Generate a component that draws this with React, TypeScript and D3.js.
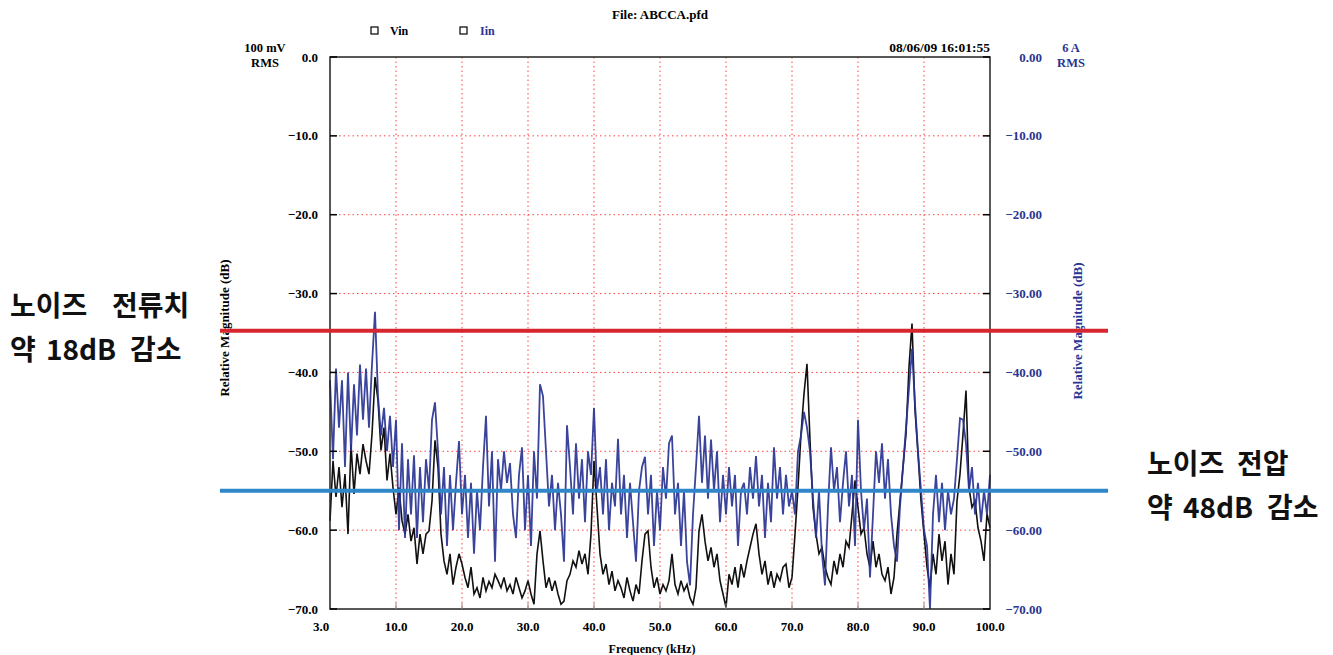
import React from 'react';
import * as d3 from 'd3';

// x axis ticks (the instrument spaces them evenly, 3 -> 10 is one division)
const FREQ_TICKS = [3, 10, 20, 30, 40, 50, 60, 70, 80, 90, 100];
const DB_TICKS = [0, -10, -20, -30, -40, -50, -60, -70];

// Vin spectrum, dB, sampled evenly across the plot width
const VIN_DB = [
  -58.8, -51.2, -55.8, -52, -57.1, -52.9, -60.5, -49.1, -55.4, -50.3,
  -52.9, -49.1, -51.2, -52.9, -47.8, -40.6, -43.5, -49.9, -47, -53.7,
  -50.3, -54.6, -58, -54.6, -58.8, -60.5, -58, -61.4, -59.7, -64.3,
  -60.5, -63, -60.5, -60.1, -56.3, -48.6, -52, -60.5, -63.9, -65.6,
  -63, -66.9, -64.7, -63, -64.3, -66, -67.3, -64.7, -68.1, -67.3,
  -68.6, -66, -67.7, -66.5, -67.3, -65.6, -66.4, -67.3, -66, -67.7,
  -66.9, -68.1, -66, -67.3, -68.6, -67.7, -66.4, -68.1, -69.4, -63,
  -60.1, -63.9, -67.3, -66, -67.7, -66.4, -68.1, -69.4, -69, -66.4,
  -65.6, -63.9, -64.7, -62.6, -64.3, -63, -65.6, -60.5, -51.2, -57.1,
  -63, -65.6, -64.3, -66.9, -65.2, -67.7, -66.4, -67.3, -68.6, -66,
  -67.7, -69, -66.9, -68.1, -63.9, -60.5, -60.1, -64.7, -67.3, -66,
  -68.1, -66.9, -67.7, -66.4, -63, -66.9, -68.1, -66.4, -67.7, -66.9,
  -68.6, -69.4, -67.3, -60.1, -58, -61.4, -63.9, -62.2, -64.7, -63,
  -66.4, -68.1, -69.8, -65.6, -66.9, -64.7, -67.3, -64.3, -66, -63.9,
  -62.2, -60.5, -59.2, -63, -65.6, -63.9, -66.9, -65.2, -67.3, -65.6,
  -66.4, -64.7, -64.3, -67.3, -66, -60.5, -54.6, -47.8, -42.7, -38.9,
  -48.6, -57.1, -60.5, -63, -62.2, -64.7, -66, -66.9, -63.9, -65.6,
  -63, -64.7, -61.4, -62.2, -58, -53.7, -57.1, -60.5, -59.7, -63,
  -64.7, -61.4, -64.7, -63, -65.6, -66.4, -64.7, -68.1, -66, -60.5,
  -56.3, -52, -47.8, -39.3, -33.8, -44.8, -50.3, -56.3, -60.5, -64.7,
  -67.3, -63, -65.6, -60.5, -63.9, -61.4, -66.9, -63, -65.6, -56.3,
  -52.9, -47.8, -42.3, -54.6, -57.1, -56.3, -59.7, -61.4, -63.9, -57.9,
  -59.7
];

// Iin spectrum, dB, same sampling
const IIN_DB = [
  -41, -51, -39.5, -47, -41, -52, -40, -50, -41.5, -48,
  -39, -46, -39.5, -47, -39, -32.3, -43, -48, -44.5, -50,
  -45.5, -52, -46, -60, -49, -61, -51, -58, -50.5, -61,
  -52, -59, -51, -55, -46, -43.8, -50, -58, -52, -62,
  -53, -60, -54, -48.7, -58, -53, -61, -54, -63, -55,
  -60, -52, -45.5, -57, -50, -64, -51, -55, -50, -54,
  -51.5, -58, -61, -53, -49.5, -60, -53, -62, -50, -56,
  -41.5, -43, -50, -57, -53, -60, -54, -58, -64, -46.7,
  -52, -58, -49, -56, -51, -59, -50, -53, -44.5, -55,
  -52, -58, -51, -60, -54, -57, -48.4, -58, -53, -61,
  -54, -59, -64, -55, -52, -50.7, -58, -53, -62, -55,
  -60, -52, -56, -49, -48, -58, -54, -62, -55, -64,
  -67, -58, -52, -45.5, -54, -48, -56, -48.5, -55, -50,
  -59, -53, -58, -52, -57, -53, -62, -55, -54, -58,
  -52, -56, -50.6, -57, -53, -61, -54, -59, -49.5, -56,
  -52, -58, -53, -57, -55, -58, -50, -48, -45, -47,
  -50, -56, -61, -55, -63, -67, -57, -49.5, -55, -52,
  -59, -54, -50, -57, -53, -62, -46, -55, -60, -56,
  -66, -58, -50, -54, -49, -56, -51, -58, -62, -64,
  -57, -52, -47, -42, -37, -44, -50, -55, -60, -62,
  -70, -58, -53, -59, -54, -60, -55, -58, -56, -51,
  -45.8, -46, -49, -55, -52, -58, -54, -59, -55, -58,
  -53
];

// annotation levels (dB) drawn across the chart
const CURRENT_LEVEL = -34.7;
const VOLTAGE_LEVEL = -55.0;

const NAVY = '#2a3492';
const SERIF = '"Liberation Serif", "DejaVu Serif", serif';
const KR = '"Noto Sans CJK KR", "Noto Sans", sans-serif';

export default function App() {
  const W = 1333, H = 655;
  const L = 330, R = 990, T = 57, B = 609;

  const x = d3.scaleLinear().domain([3, 10, 100]).range([L, L + (R - L) / 10, R]);
  const xi = d3.scaleLinear().domain([0, VIN_DB.length - 1]).range([L, R]);
  const y = d3.scaleLinear().domain([-70, 0]).range([B, T]);

  const line = d3.line<number>()
    .x((_, i) => xi(i))
    .y(d => y(d));

  const fmtL = d3.format('.1f');
  const fmtR = d3.format('.2f');

  const txt = { fontFamily: SERIF, fontWeight: 700, fontSize: 13 } as const;

  return (
    <svg width={W} height={H} style={{ position: 'absolute', left: 0, top: 0, background: '#fff' }}>
      {/* title + legend */}
      <text x={660} y={19} textAnchor="middle" {...txt}>File: ABCCA.pfd</text>
      <rect x={371} y={27} width={7} height={7} fill="none" stroke="#000" strokeWidth={1.2} />
      <text x={390} y={35} {...txt} fontSize={12}>Vin</text>
      <rect x={460} y={27} width={7} height={7} fill="none" stroke="#000" strokeWidth={1.2} />
      <text x={480} y={35} {...txt} fontSize={12} fill={NAVY}>Iin</text>

      <text x={265} y={52} textAnchor="middle" {...txt} fontSize={12.5}>100 mV</text>
      <text x={265} y={67} textAnchor="middle" {...txt} fontSize={12.5}>RMS</text>
      <text x={R} y={52} textAnchor="end" {...txt} fontSize={13.5}>08/06/09 16:01:55</text>
      <text x={1071} y={52} textAnchor="middle" {...txt} fontSize={12.5} fill={NAVY}>6 A</text>
      <text x={1071} y={67} textAnchor="middle" {...txt} fontSize={12.5} fill={NAVY}>RMS</text>

      {/* grid */}
      <g stroke="#f22" strokeWidth={1} strokeDasharray="1.5,3" opacity={0.85}>
        {FREQ_TICKS.slice(1, -1).map(f => (
          <line key={'gx' + f} x1={x(f)} x2={x(f)} y1={T} y2={B} />
        ))}
        {DB_TICKS.slice(1, -1).map(v => (
          <line key={'gy' + v} x1={L} x2={R} y1={y(v)} y2={y(v)} />
        ))}
      </g>

      {/* series */}
      <path d={line(VIN_DB) || ''} fill="none" stroke="#111" strokeWidth={1.6} />
      <path d={line(IIN_DB) || ''} fill="none" stroke={NAVY} strokeWidth={1.8} strokeOpacity={0.92} />

      {/* frame and ticks */}
      <rect x={L} y={T} width={R - L} height={B - T} fill="none" stroke="#222" strokeWidth={1.5} />
      {DB_TICKS.map(v => (
        <g key={'t' + v}>
          <line x1={L} x2={L + 7} y1={y(v)} y2={y(v)} stroke="#000" strokeWidth={1.5} />
          <line x1={R - 7} x2={R} y1={y(v)} y2={y(v)} stroke="#000" strokeWidth={1.5} />
          <text x={318} y={y(v) + 4.5} textAnchor="end" {...txt}>{fmtL(v)}</text>
          <text x={1042} y={y(v) + 4.5} textAnchor="end" {...txt} fill={NAVY}>{fmtR(v)}</text>
        </g>
      ))}
      {FREQ_TICKS.map((f, i) => (
        <g key={'xt' + f}>
          {i > 0 && i < FREQ_TICKS.length - 1 && (
            <line x1={x(f)} x2={x(f)} y1={B} y2={B - 6} stroke="#888" strokeWidth={1} />
          )}
          <text x={x(f) + (i === 0 ? -9 : 0)} y={631} textAnchor="middle" {...txt}>{fmtL(f)}</text>
        </g>
      ))}
      <text x={652} y={653} textAnchor="middle" {...txt} fontSize={12}>Frequency (kHz)</text>
      <text transform="translate(229,328) rotate(-90)" textAnchor="middle" {...txt} fontSize={13}>
        Relative Magnitude (dB)
      </text>
      <text transform="translate(1082,331) rotate(-90)" textAnchor="middle" {...txt} fontSize={13} fill={NAVY}>
        Relative Magnitude (dB)
      </text>

      {/* annotation lines */}
      <line x1={220} x2={1108} y1={y(CURRENT_LEVEL)} y2={y(CURRENT_LEVEL)} stroke="#d7262f" strokeWidth={4} />
      <line x1={220} x2={1108} y1={y(VOLTAGE_LEVEL)} y2={y(VOLTAGE_LEVEL)} stroke="#2f86c8" strokeWidth={4} />

      {/* annotations */}
      <g fontFamily={KR} fontWeight={700} fontSize={28} fill="#111">
        <text x={10} y={316}>노이즈</text>
        <text x={112} y={316}>전류치</text>
        <text x={10} y={360}>약</text>
        <text x={46} y={360}>18dB</text>
        <text x={130} y={360}>감소</text>
        <text x={1147} y={474}>노이즈</text>
        <text x={1237} y={474}>전압</text>
        <text x={1147} y={518}>약</text>
        <text x={1183} y={518}>48dB</text>
        <text x={1267} y={518}>감소</text>
      </g>
    </svg>
  );
}
